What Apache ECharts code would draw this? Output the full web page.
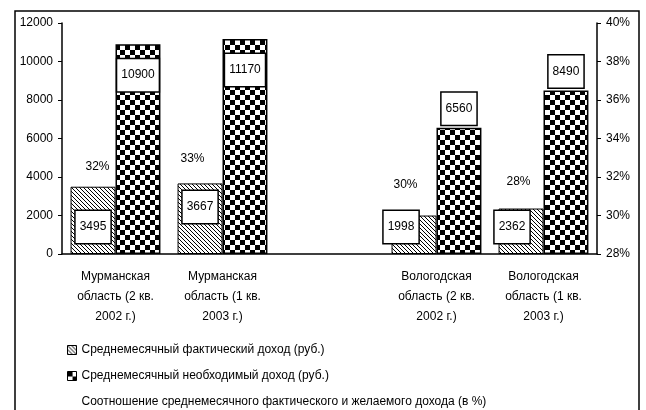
<!DOCTYPE html>
<html>
<head>
<meta charset="utf-8">
<script src="https://cdn.jsdelivr.net/npm/echarts@6/dist/echarts.min.js"></script>
<style>
  html, body { margin: 0; padding: 0; background: #fff; }
  #chart { width: 646px; height: 410px; }
</style>
</head>
<body>
<div id="chart"></div>
<script>
// categories (middle slot is an empty gap between the two regions)
var categories = [
    'Мурманская\nобласть (2 кв.\n2002 г.)',
    'Мурманская\nобласть (1 кв.\n2003 г.)',
    '',
    'Вологодская\nобласть (2 кв.\n2002 г.)',
    'Вологодская\nобласть (1 кв.\n2003 г.)'
];
var factIncome = [3495, 3667, null, 1998, 2362];
var neededIncome = [10900, 11170, null, 6560, 8490];
var ratioPct = [32, 33, null, 30, 28];

var seriesNames = [
    'Среднемесячный фактический доход (руб.)',
    'Среднемесячный необходимый доход (руб.)',
    'Соотношение среднемесячного фактического и желаемого дохода (в %)'
];

// label placement tweaks, per category (like the Excel original)
var factLabelTweak = [{}, {distance: 31}, {}, {offset: [-13, 0]}, {offset: [-9, 0]}];
var neededLabelTweak = [
    {position: 'insideTop', distance: 15},
    {position: 'insideTop', distance: 15},
    {},
    {position: 'top', distance: 3},
    {position: 'top', distance: 3}
];
var ratioLabelTweak = [
    {offset: [-18, 1]}, {offset: [-30, 12]}, {}, {offset: [-31, -19]}, {offset: [-25, -61]}
];

// fill patterns
var makeChecker = function() {
    var c = document.createElement('canvas');
    c.width = 10; c.height = 10;
    var ctx = c.getContext('2d');
    ctx.fillStyle = '#fff';
    ctx.fillRect(0, 0, 10, 10);
    ctx.fillStyle = '#000';
    ctx.fillRect(0, 0, 5, 5);
    ctx.fillRect(5, 5, 5, 5);
    return c;
}

var makeHatch = function() {
    var c = document.createElement('canvas');
    c.width = 4; c.height = 4;
    var ctx = c.getContext('2d');
    ctx.fillStyle = '#fff';
    ctx.fillRect(0, 0, 4, 4);
    ctx.fillStyle = '#000';
    for (var i = 0; i < 4; i++) ctx.fillRect(i, i, 1, 1);
    return c;
}

var font = 'Liberation Sans, Arial, sans-serif';

var boxLabel = {
    show: true,
    color: '#000',
    fontSize: 12,
    fontFamily: font,
    backgroundColor: '#fff',
    borderColor: '#000',
    borderWidth: 1.5,
    padding: [10, 4]
};

var withLabels = function(values, tweaks) {
    return values.map(function(v, i) {
        if (v === null) return null;
        return {value: v, label: tweaks[i]};
    });
}

var plain = function(v) { return String(v); }

var option = {
    backgroundColor: '#fff',
    animation: false,
    textStyle: {fontFamily: font, color: '#000'},
    grid: {left: 62, right: 49, top: 23, bottom: 156},
    graphic: [{
        type: 'rect',
        shape: {x: 15, y: 11, width: 624, height: 420},
        style: {fill: 'none', stroke: '#000', lineWidth: 1.5},
        silent: true
    }],
    legend: {
        orient: 'vertical',
        left: 67,
        top: 344,
        itemWidth: 9,
        itemHeight: 9,
        itemGap: 14,
        padding: 0,
        icon: 'rect',
        textStyle: {fontSize: 12, color: '#000', fontFamily: font},
        data: [
            {name: seriesNames[0], itemStyle: {borderColor: '#000', borderWidth: 1}},
            {name: seriesNames[1], itemStyle: {borderColor: '#000', borderWidth: 1}},
            {name: seriesNames[2], itemStyle: {color: 'transparent', borderWidth: 0}}
        ]
    },
    xAxis: {
        type: 'category',
        data: categories,
        axisLine: {lineStyle: {color: '#000', width: 1.5}},
        axisTick: {lineStyle: {color: '#000'}, length: 5},
        axisLabel: {
            color: '#000', fontSize: 12, lineHeight: 20, margin: 13,
            interval: 0, fontFamily: font
        }
    },
    yAxis: [{
        type: 'value',
        min: 0, max: 12000, interval: 2000,
        axisLine: {show: true, lineStyle: {color: '#000', width: 1.5}},
        axisTick: {show: true, length: 4, lineStyle: {color: '#000'}},
        axisLabel: {color: '#000', fontSize: 12, margin: 9, fontFamily: font, formatter: plain},
        splitLine: {show: false}
    }, {
        type: 'value',
        min: 28, max: 40, interval: 2,
        position: 'right',
        axisLine: {show: true, lineStyle: {color: '#000', width: 1.5}},
        axisTick: {show: true, length: 4, lineStyle: {color: '#000'}},
        axisLabel: {color: '#000', fontSize: 12, margin: 9, formatter: '{value}%', fontFamily: font},
        splitLine: {show: false}
    }],
    series: [{
        name: seriesNames[0],
        type: 'bar',
        barGap: '0%',
        barCategoryGap: '16%',
        itemStyle: {
            color: {image: makeHatch(), repeat: 'repeat'},
            borderColor: '#000',
            borderWidth: 1
        },
        label: Object.assign({}, boxLabel, {position: 'insideBottom', distance: 11, formatter: '{c}'}),
        data: withLabels(factIncome, factLabelTweak)
    }, {
        name: seriesNames[1],
        type: 'bar',
        itemStyle: {
            color: {image: makeChecker(), repeat: 'repeat'},
            borderColor: '#000',
            borderWidth: 1.5
        },
        label: Object.assign({}, boxLabel, {formatter: '{c}'}),
        data: withLabels(neededIncome, neededLabelTweak)
    }, {
        name: seriesNames[2],
        type: 'line',
        yAxisIndex: 1,
        symbol: 'circle',
        symbolSize: 1,
        itemStyle: {color: 'transparent'},
        lineStyle: {width: 0, opacity: 0},
        label: {
            show: true, position: 'top', distance: 5,
            color: '#000', fontSize: 12, fontFamily: font,
            formatter: '{c}%'
        },
        data: withLabels(ratioPct, ratioLabelTweak)
    }]
};

var myChart = echarts.init(document.getElementById('chart'), null, {renderer: 'canvas'});
myChart.setOption(option);
</script>
</body>
</html>
